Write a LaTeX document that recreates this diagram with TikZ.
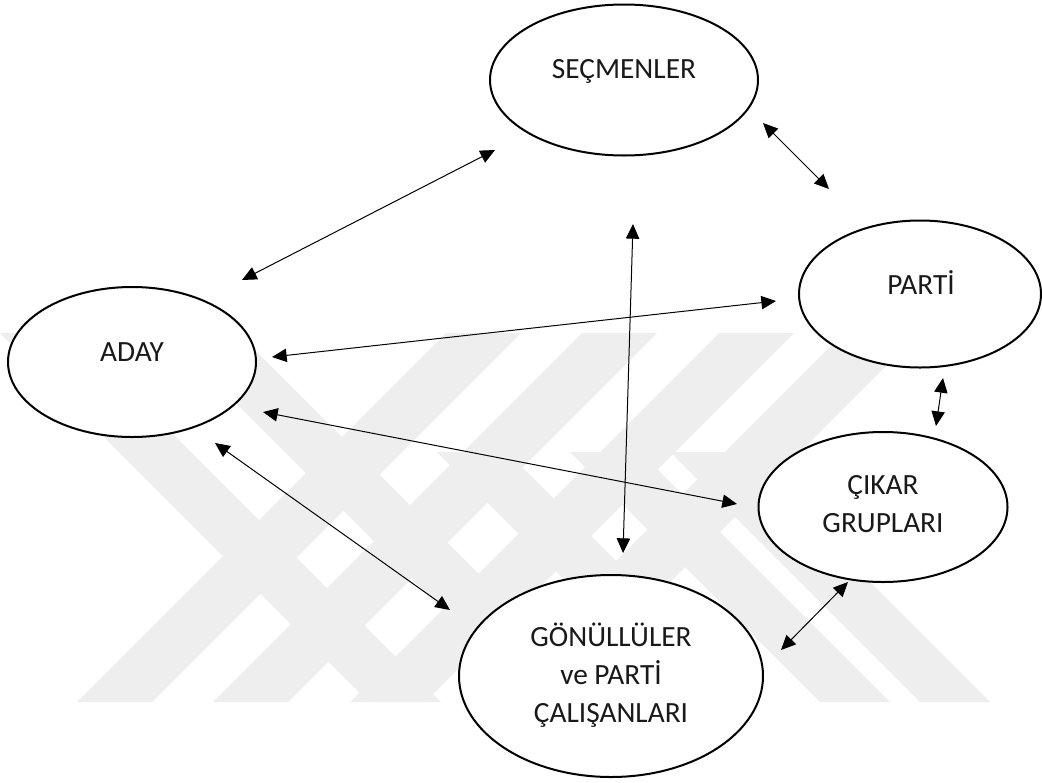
\documentclass[tikz,border=0pt]{standalone}
\usepackage{fontspec}
\setmainfont{Carlito}
\usetikzlibrary{arrows.meta,shapes.geometric}
\definecolor{wmark}{HTML}{EEEEEE}
\tikzset{
  oval/.style={draw=black, line width=1.5pt, ellipse, inner sep=0pt, fill=white},
  lbl/.style={font=\fontsize{22}{28.5}\selectfont, align=center, inner sep=0pt, text=black!90},
  link/.style={line width=0.75pt, {Triangle[length=11pt,width=10pt]}-{Triangle[length=11pt,width=10pt]}},
  wm/.style={fill=wmark, draw=none}
}
\begin{document}
\begin{tikzpicture}[x=0.75pt,y=-0.75pt]
\useasboundingbox (0,0) rectangle (1042,782);
\fill[white] (0,0) rectangle (1042,782);
% watermark bands
\foreach \b in {77,213,350,475}{
  \fill[wm] (\b,702) -- ({\b+75},702) -- ({\b+75+369},333) -- ({\b+369},333) -- cycle;
}
\foreach \t in {0,166}{
  \fill[wm] (\t,333) -- ({\t+72},333) -- ({\t+72+369},702) -- ({\t+369},702) -- cycle;
}
\foreach \b in {687,820,920}{
  \fill[wm] (\b,702) -- ({\b+70},702) -- ({\b+70-250},452) -- ({\b-250},452) -- cycle;
}
% nodes
\node[oval, minimum width=268*0.75pt, minimum height=151*0.75pt] (secmen) at (624,80) {};
\node[oval, minimum width=248*0.75pt, minimum height=150*0.75pt] (aday) at (132,362) {};
\node[oval, minimum width=242*0.75pt, minimum height=147*0.75pt] (parti) at (920,294) {};
\node[oval, minimum width=249*0.75pt, minimum height=150*0.75pt] (cikar) at (883,507) {};
\node[oval, minimum width=304*0.75pt, minimum height=202*0.75pt] (gonullu) at (611,676) {};
\node[lbl] (tsecmen) at (624,71) {SEÇMENLER};
\node[lbl] (taday) at (132,352) {ADAY};
\node[lbl] (tparti) at (921,283) {PARTİ};
\node[lbl] (tcikar) at (883,504) {ÇIKAR\\GRUPLARI};
\node[lbl] (tgonullu) at (611,675) {GÖNÜLLÜLER\\ve PARTİ\\ÇALIŞANLARI};
% connector end points
\coordinate (a1) at (242,280); \coordinate (s1) at (495,150);
\coordinate (s2) at (763,123); \coordinate (p1) at (829,189);
\coordinate (a2) at (272,357); \coordinate (p2) at (776,301);
\coordinate (a3) at (263,412); \coordinate (c1) at (737,504);
\coordinate (a4) at (215,443); \coordinate (g1) at (450,610);
\coordinate (s3) at (633,224); \coordinate (g2) at (623,553);
\coordinate (p3) at (943,378); \coordinate (c2) at (936,426);
\coordinate (c3) at (848,582); \coordinate (g3) at (781,650);
% connectors
\draw[link] (a1) -- (s1);
\draw[link] (s2) -- (p1);
\draw[link] (a2) -- (p2);
\draw[link] (a3) -- (c1);
\draw[link] (a4) -- (g1);
\draw[link] (s3) -- (g2);
\draw[link] (p3) -- (c2);
\draw[link] (c3) -- (g3);
\end{tikzpicture}
\end{document}
